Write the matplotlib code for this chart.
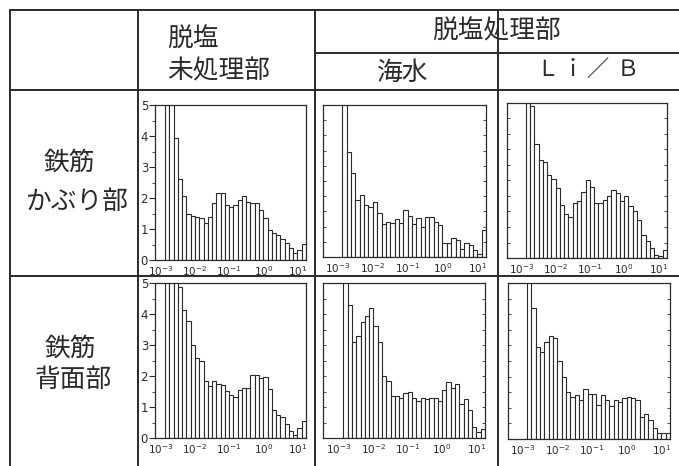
import numpy as np
import matplotlib
matplotlib.use("Agg")
import matplotlib.pyplot as plt

plt.rcParams['font.family'] = ['Noto Sans CJK JP', 'DejaVu Sans']

# column / row headings
col_group = "脱塩処理部"
col_untreated = ["脱塩", "未処理部"]
col_seawater = "海水"
col_lib = ["Ｌ", "ｉ", "／", "Ｂ"]
row_labels = [["鉄筋", "かぶり部"], ["鉄筋", "背面部"]]

# log10 pore diameter bins: 1/8 decade wide, first bin starts at 10^-2.875
bin_start = -2.875
bin_width = 0.125
x_ticks = [-3, -2, -1, 0, 1]
x_ticklabels = ["$10^{-3}$", "$10^{-2}$", "$10^{-1}$", "$10^{0}$", "$10^{1}$"]

# histogram heights (values above 5 are cut off by the frame)
untreated_cover = [8, 6, 3.92, 2.6, 2.06, 1.5, 1.42, 1.4, 1.34, 1.18, 1.4, 1.83,
                   2.17, 2.17, 1.77, 1.72, 1.77, 1.94, 2.06, 1.88, 1.85, 1.85, 1.6,
                   1.37, 0.97, 0.86, 0.8, 0.67, 0.54, 0.38, 0.22, 0.32, 0.52]
seawater_cover = [9, 3.46, 2.75, 1.89, 2.03, 1.7, 1.65, 1.81, 1.45, 1.1, 1.15, 1.12,
                  1.26, 1.12, 1.56, 1.34, 1.1, 1.29, 0.99, 1.3, 1.3, 1.15, 1.04,
                  0.46, 0.46, 0.63, 0.55, 0.27, 0.46, 0.38, 0.24, 0.11, 0.9]
lib_cover = [6, 4.9, 3.69, 3.17, 3.09, 2.69, 2.55, 2.26, 1.72, 1.43, 1.31, 1.77,
             1.83, 2.12, 2.53, 2.29, 1.77, 1.77, 1.86, 2.01, 2.2, 2.1, 1.85, 2.01,
             1.69, 1.51, 1.24, 0.75, 0.54, 0.32, 0.11, 0.08, 0.27]
untreated_back = [8, 8, 8, 4.86, 4.14, 3.76, 3.01, 2.58, 2.47, 1.83, 1.69, 1.85,
                  1.74, 1.72, 1.51, 1.4, 1.31, 1.56, 1.61, 1.61, 2.04, 2.04, 1.94,
                  1.96, 1.58, 0.91, 0.73, 0.67, 0.45, 0.22, 0.11, 0.32, 0.54]
seawater_back = [8, 4.3, 3.1, 3.3, 3.75, 3.95, 4.2, 3.6, 3.1, 2.0, 1.85, 1.35,
                 1.35, 1.3, 1.45, 1.5, 1.3, 1.2, 1.3, 1.25, 1.3, 1.3, 1.2, 1.55,
                 1.8, 1.6, 1.75, 1.1, 1.25, 0.9, 0.35, 0.2, 0.3]
lib_back = [8, 4.2, 2.95, 2.8, 3.1, 3.3, 3.25, 2.5, 2.0, 1.5, 1.35, 1.4, 1.25,
            1.6, 1.45, 1.45, 1.1, 1.4, 1.25, 1.05, 1.25, 1.2, 1.3, 1.35, 1.3,
            1.25, 0.7, 0.8, 0.6, 0.35, 0.2, 0.2, 0.2]

W, H = 679, 466
ink = "#2a2a2a"
fig = plt.figure(figsize=(W / 100, H / 100), dpi=100)

# table grid drawn in pixel coordinates
grid = fig.add_axes([0, 0, 1, 1])
grid.set_xlim(0, W)
grid.set_ylim(H, 0)
grid.axis("off")
lw = 1.4
for x in [10, 138, 315, 498]:
    grid.plot([x, x], [10, H], color=ink, lw=lw)
grid.plot([10, 679], [10, 10], color=ink, lw=lw)
grid.plot([315, 679], [53, 53], color=ink, lw=lw)
grid.plot([10, 679], [90, 90], color=ink, lw=lw)
grid.plot([10, 679], [276, 276], color=ink, lw=lw)

fs = 18.5
txt = dict(fontsize=fs, color=ink, va="center")
grid.text(167, 40, col_untreated[0], ha="left", **txt)
grid.text(167, 71, col_untreated[1], ha="left", **txt)
grid.text(497, 31, col_group, ha="center", **txt)
grid.text(403, 73, col_seawater, ha="center", **txt)
for ch, x in zip(col_lib, [547, 573, 597, 628]):
    grid.text(x, 70, ch, ha="center", fontsize=16, color=ink, va="center")
grid.text(69, 163, row_labels[0][0], ha="center", **txt)
grid.text(77, 202, row_labels[0][1], ha="center", **txt)
grid.text(70, 349, row_labels[1][0], ha="center", **txt)
grid.text(73, 380, row_labels[1][1], ha="center", **txt)

# panel frames in pixels: left, right, top, bottom, xlim left, y labels
panels = [
    (untreated_cover, 155, 306, 105, 260, -3.17, True),
    (seawater_cover, 323, 486, 105, 257, -3.43, False),
    (lib_cover, 507, 667, 103, 258, -3.42, False),
    (untreated_back, 155, 306, 283, 438, -3.17, True),
    (seawater_back, 323, 485, 283, 438, -3.47, False),
    (lib_back, 508, 670, 283, 439, -3.42, False),
]

for heights, l, r, t, b, xl, ylabels in panels:
    ax = fig.add_axes([l / W, 1 - b / H, (r - l) / W, (b - t) / H])
    lefts = bin_start + bin_width * np.arange(len(heights))
    ax.bar(lefts, heights, width=bin_width, align="edge", color="white",
           edgecolor=ink, linewidth=0.8)
    ax.set_xlim(xl, bin_start + bin_width * len(heights))
    ax.set_ylim(0, 5)
    for s in ax.spines.values():
        s.set_color(ink)
        s.set_linewidth(0.9)
    ax.set_xticks(x_ticks)
    ax.set_xticklabels(x_ticklabels, fontsize=7.5, color=ink, family="DejaVu Sans")
    ax.tick_params(axis="x", length=0, pad=3)
    ax.set_yticks(range(6))
    ax.set_yticks(np.arange(0.5, 5, 0.5), minor=True)
    if ylabels:
        ax.set_yticklabels([str(i) for i in range(6)], fontsize=8.5, color=ink,
                           family="DejaVu Sans")
        ax.tick_params(axis="y", which="major", direction="out", length=4,
                       width=0.8, color=ink, pad=1)
        ax.tick_params(axis="y", which="minor", direction="out", length=2,
                       width=0.6, color=ink)
    else:
        ax.set_yticklabels([])
        ax.tick_params(axis="y", which="both", direction="in", length=2,
                       width=0.6, color=ink, right=True)
    ax.patch.set_alpha(0)

fig.savefig("out.png", dpi=100)
